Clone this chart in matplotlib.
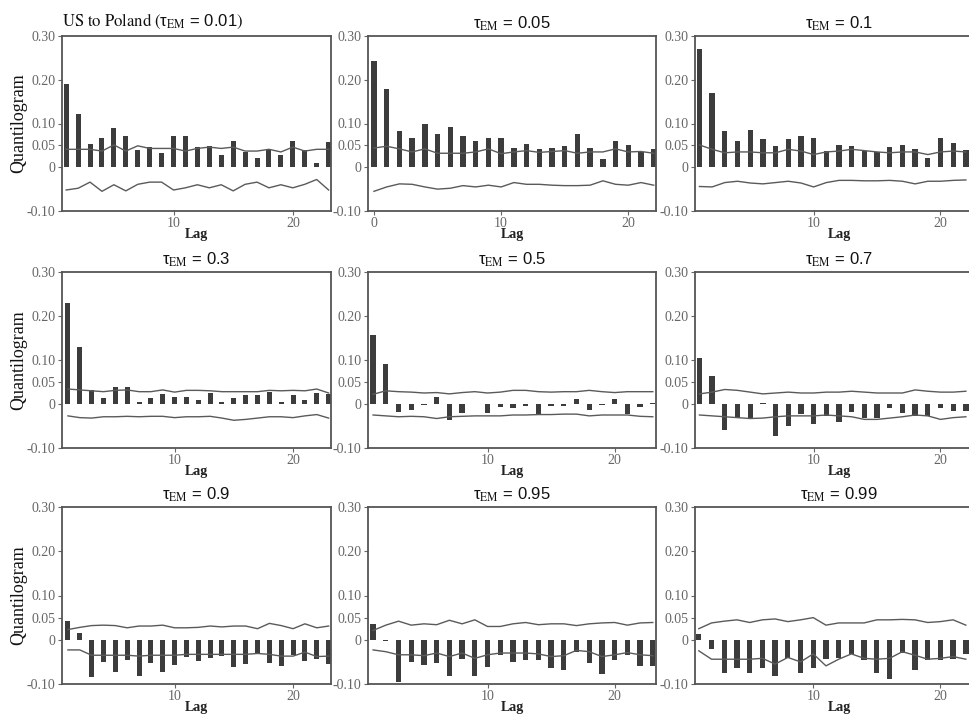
import matplotlib
matplotlib.use("Agg")
import matplotlib.pyplot as plt

plt.rcParams['mathtext.fontset'] = 'stix'

# --- data ---
taus = ['0.01', '0.05', '0.1', '0.3', '0.5', '0.7', '0.9', '0.95', '0.99']

lags = [
    list(range(1, 24)),   # 0.01
    list(range(0, 23)),   # 0.05
    list(range(1, 23)),   # 0.1
    list(range(1, 24)),   # 0.3
    list(range(1, 24)),   # 0.5
    list(range(1, 23)),   # 0.7
    list(range(1, 24)),   # 0.9
    list(range(1, 24)),   # 0.95
    list(range(1, 23)),   # 0.99
]

q_001 = [0.19, 0.122, 0.053, 0.066, 0.09, 0.072, 0.039, 0.046, 0.033, 0.072, 0.072, 0.047,
         0.049, 0.028, 0.059, 0.035, 0.022, 0.039, 0.028, 0.059, 0.039, 0.009, 0.058]
up_001 = [0.041, 0.041, 0.041, 0.037, 0.051, 0.037, 0.049, 0.043, 0.043, 0.043, 0.037, 0.043,
          0.046, 0.043, 0.046, 0.037, 0.037, 0.041, 0.035, 0.046, 0.037, 0.041, 0.041]
lo_001 = [-0.052, -0.048, -0.034, -0.055, -0.040, -0.054, -0.039, -0.034, -0.034, -0.052, -0.047, -0.040,
          -0.047, -0.040, -0.054, -0.039, -0.034, -0.047, -0.040, -0.047, -0.039, -0.028, -0.052]

q_005 = [0.242, 0.178, 0.082, 0.067, 0.098, 0.076, 0.093, 0.072, 0.061, 0.067, 0.067, 0.045,
         0.054, 0.042, 0.045, 0.048, 0.077, 0.045, 0.019, 0.061, 0.051, 0.036, 0.042]
up_005 = [0.044, 0.048, 0.042, 0.035, 0.042, 0.032, 0.032, 0.032, 0.035, 0.042, 0.031, 0.035,
          0.038, 0.034, 0.036, 0.038, 0.032, 0.035, 0.035, 0.042, 0.035, 0.036, 0.032]
lo_005 = [-0.055, -0.045, -0.038, -0.039, -0.045, -0.050, -0.048, -0.042, -0.045, -0.041, -0.045, -0.035,
          -0.039, -0.039, -0.041, -0.042, -0.042, -0.041, -0.031, -0.039, -0.041, -0.035, -0.041]

q_01 = [0.27, 0.17, 0.083, 0.06, 0.085, 0.064, 0.048, 0.064, 0.072, 0.066, 0.038, 0.052,
        0.048, 0.037, 0.035, 0.047, 0.051, 0.042, 0.022, 0.066, 0.055, 0.039]
up_01 = [0.051, 0.041, 0.033, 0.035, 0.035, 0.033, 0.033, 0.041, 0.037, 0.029, 0.035, 0.037,
         0.041, 0.038, 0.035, 0.033, 0.035, 0.035, 0.029, 0.035, 0.037, 0.035]
lo_01 = [-0.044, -0.045, -0.035, -0.032, -0.036, -0.038, -0.035, -0.032, -0.036, -0.045, -0.035, -0.030,
         -0.030, -0.031, -0.031, -0.030, -0.032, -0.038, -0.032, -0.032, -0.030, -0.029]

q_03 = [0.23, 0.13, 0.031, 0.013, 0.038, 0.038, 0.005, 0.013, 0.023, 0.017, 0.015, 0.008,
        0.025, 0.005, 0.013, 0.021, 0.021, 0.028, 0.004, 0.021, 0.009, 0.025, 0.023]
up_03 = [0.034, 0.032, 0.030, 0.028, 0.031, 0.032, 0.028, 0.028, 0.032, 0.027, 0.031, 0.031,
         0.030, 0.028, 0.028, 0.028, 0.028, 0.031, 0.030, 0.031, 0.030, 0.034, 0.025]
lo_03 = [-0.027, -0.031, -0.032, -0.029, -0.029, -0.028, -0.029, -0.028, -0.028, -0.031, -0.029, -0.029,
         -0.028, -0.032, -0.037, -0.035, -0.032, -0.029, -0.029, -0.031, -0.027, -0.024, -0.032]

q_05 = [0.157, 0.092, -0.018, -0.014, -0.003, 0.015, -0.037, -0.02, -0.001, -0.02, -0.006, -0.008,
        -0.004, -0.025, -0.004, -0.004, 0.011, -0.014, -0.002, 0.011, -0.022, -0.006, 0.003]
up_05 = [0.022, 0.030, 0.028, 0.027, 0.025, 0.026, 0.023, 0.026, 0.028, 0.025, 0.027, 0.031,
         0.031, 0.028, 0.027, 0.028, 0.028, 0.031, 0.028, 0.026, 0.028, 0.028, 0.028]
lo_05 = [-0.025, -0.027, -0.029, -0.028, -0.029, -0.033, -0.029, -0.028, -0.027, -0.027, -0.027, -0.025,
         -0.025, -0.024, -0.024, -0.023, -0.023, -0.027, -0.025, -0.025, -0.025, -0.028, -0.029]

q_07 = [0.104, 0.063, -0.059, -0.032, -0.035, 0.002, -0.073, -0.05, -0.023, -0.045, -0.028, -0.041,
        -0.019, -0.031, -0.031, -0.009, -0.021, -0.027, -0.027, -0.008, -0.017, -0.017]
up_07 = [0.023, 0.027, 0.033, 0.031, 0.027, 0.023, 0.025, 0.027, 0.025, 0.025, 0.027, 0.027,
         0.029, 0.027, 0.025, 0.025, 0.025, 0.032, 0.029, 0.027, 0.027, 0.029]
lo_07 = [-0.025, -0.027, -0.029, -0.031, -0.033, -0.032, -0.029, -0.027, -0.027, -0.027, -0.025, -0.027,
         -0.029, -0.035, -0.035, -0.032, -0.029, -0.025, -0.027, -0.035, -0.031, -0.029]

q_09 = [0.042, 0.015, -0.085, -0.05, -0.072, -0.046, -0.083, -0.052, -0.073, -0.058, -0.038, -0.048,
        -0.041, -0.037, -0.062, -0.055, -0.033, -0.052, -0.059, -0.035, -0.048, -0.044, -0.055]
up_09 = [0.023, 0.028, 0.032, 0.033, 0.032, 0.027, 0.031, 0.031, 0.033, 0.027, 0.027, 0.028,
         0.031, 0.029, 0.031, 0.031, 0.025, 0.037, 0.032, 0.025, 0.036, 0.027, 0.031]
lo_09 = [-0.023, -0.023, -0.035, -0.035, -0.035, -0.035, -0.037, -0.035, -0.035, -0.035, -0.033, -0.033,
         -0.033, -0.033, -0.033, -0.033, -0.031, -0.033, -0.037, -0.037, -0.028, -0.038, -0.037]

q_095 = [0.035, -0.003, -0.095, -0.051, -0.058, -0.053, -0.083, -0.044, -0.083, -0.062, -0.034, -0.051,
         -0.045, -0.045, -0.063, -0.068, -0.028, -0.052, -0.077, -0.045, -0.034, -0.059, -0.059]
up_095 = [0.021, 0.033, 0.042, 0.033, 0.036, 0.034, 0.044, 0.036, 0.045, 0.030, 0.030, 0.036,
          0.039, 0.034, 0.036, 0.036, 0.032, 0.036, 0.038, 0.039, 0.033, 0.038, 0.039]
lo_095 = [-0.023, -0.027, -0.034, -0.034, -0.036, -0.030, -0.038, -0.030, -0.042, -0.034, -0.030, -0.030,
          -0.030, -0.032, -0.038, -0.036, -0.024, -0.027, -0.038, -0.034, -0.029, -0.034, -0.036]

q_099 = [0.014, -0.021, -0.075, -0.063, -0.075, -0.063, -0.082, -0.042, -0.076, -0.063, -0.044, -0.042,
         -0.032, -0.045, -0.075, -0.088, -0.03, -0.069, -0.045, -0.045, -0.044, -0.032]
up_099 = [0.025, 0.038, 0.042, 0.045, 0.039, 0.045, 0.047, 0.041, 0.045, 0.050, 0.033, 0.038,
          0.038, 0.038, 0.045, 0.045, 0.046, 0.045, 0.039, 0.041, 0.045, 0.033]
lo_099 = [-0.025, -0.044, -0.044, -0.044, -0.044, -0.042, -0.055, -0.040, -0.050, -0.032, -0.059, -0.044,
          -0.032, -0.042, -0.044, -0.042, -0.027, -0.035, -0.044, -0.042, -0.038, -0.044]

quant = [q_001, q_005, q_01, q_03, q_05, q_07, q_09, q_095, q_099]
upper = [up_001, up_005, up_01, up_03, up_05, up_07, up_09, up_095, up_099]
lower = [lo_001, lo_005, lo_01, lo_03, lo_05, lo_07, lo_09, lo_095, lo_099]

yticks = [0.30, 0.20, 0.10, 0.05, 0, -0.10]
yticklabels = ['0.30', '0.20', '0.10', '0.05', '0', '-0.10']

# --- layout (pixels of a 970x715 canvas) ---
W, H = 970, 715
cols = [(62, 269), (368, 288), (695, 288)]
rows = [(36, 211), (272, 448), (507, 684)]
xlims = [(0.65, 23.2), (-0.47, 22.18), (0.65, 23.35),
         (0.5, 23.2), (0.6, 23.25), (0.65, 23.35),
         (0.5, 23.2), (0.6, 23.25), (0.7, 23.35)]

bar_color = '#3c3c3c'
line_color = '#5a5a5a'
frame_color = '#555555'
tick_color = '#666666'
serif = 'Liberation Serif'

fig = plt.figure(figsize=(W / 100, H / 100), dpi=100)

for i in range(9):
    r, c = divmod(i, 3)
    left, width = cols[c]
    top, bottom = rows[r]
    ax = fig.add_axes([left / W, 1 - bottom / H, width / W, (bottom - top) / H])

    ax.bar(lags[i], quant[i], width=0.42, color=bar_color, linewidth=0)
    ax.plot(lags[i], upper[i], color=line_color, lw=1.0)
    ax.plot(lags[i], lower[i], color=line_color, lw=1.0)

    ax.set_xlim(*xlims[i])
    ax.set_ylim(-0.10, 0.30)
    ax.set_yticks(yticks)
    ax.set_yticklabels(yticklabels)
    if i == 1:
        ax.set_xticks([0, 10, 20])
    else:
        ax.set_xticks([10, 20])

    for lab in ax.get_xticklabels() + ax.get_yticklabels():
        lab.set_fontfamily(serif)
        lab.set_fontsize(10)
        lab.set_color(tick_color)
    ax.tick_params(length=3, width=0.8, color=tick_color, pad=1.5)

    for sp in ax.spines.values():
        sp.set_color(frame_color)
        sp.set_linewidth(1.3)

    ax.set_xlabel('Lag', fontfamily=serif, fontsize=10, fontweight='bold',
                  color='#222222', labelpad=-1.5)

    if c == 0:
        ax.set_ylabel('Quantilogram', fontfamily=serif, fontsize=13, color='#111111')
        ax.yaxis.set_label_coords(-0.13, 0.5)

    if i == 0:
        ax.set_title(r'$\mathrm{US\ to\ Poland}\ ($' + 'τ' + r'$_{\mathrm{EM}}$ = 0.01$)$',
                     fontfamily='Liberation Sans', fontsize=12, loc='left', pad=7,
                     color='#111111')
    else:
        ax.set_title('τ' + r'$_{\mathrm{EM}}$ = ' + taus[i], fontfamily='Liberation Sans',
                     fontsize=12, pad=5, color='#111111')

fig.savefig('out.png', dpi=100)
